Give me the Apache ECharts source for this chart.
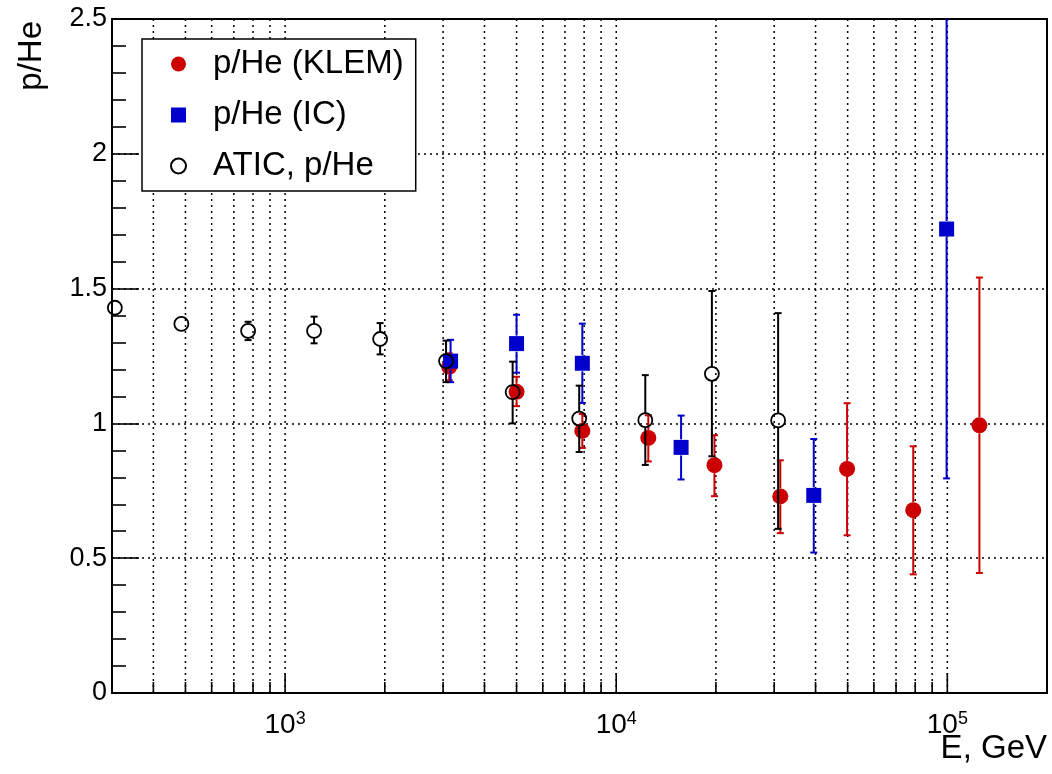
<!DOCTYPE html>
<html>
<head>
<meta charset="utf-8">
<script src="https://cdn.jsdelivr.net/npm/echarts@6/dist/echarts.min.js"></script>
<style>html,body{margin:0;padding:0;background:#fff}#c{width:1052px;height:774px}</style>
</head>
<body>
<div id="c"></div>
<script>
// ---- data ----
const klemE  = [3130, 5000, 7900, 12500, 19800, 31300, 49800, 78900, 125000];
const klemY  = [1.21, 1.117, 0.972, 0.946, 0.845, 0.729, 0.831, 0.678, 0.993];
const klemLo = [1.16, 1.064, 0.909, 0.859, 0.730, 0.593, 0.585, 0.440, 0.445];
const klemHi = [1.26, 1.173, 1.035, 1.030, 0.956, 0.863, 1.075, 0.915, 1.541];

const icE  = [3160, 5000, 7900, 15700, 39500, 99500];
const icY  = [1.231, 1.296, 1.223, 0.911, 0.733, 1.721];
const icLo = [1.153, 1.188, 1.076, 0.792, 0.521, 0.796];
const icHi = [1.310, 1.403, 1.370, 1.029, 0.942, 2.700];

const aticE  = [306, 486, 773, 1223, 1936, 3062, 4866, 7730, 12240, 19450, 30830];
const aticY  = [1.429, 1.369, 1.343, 1.343, 1.313, 1.231, 1.116, 1.018, 1.012, 1.184, 1.011];
const aticLo = [1.420, 1.360, 1.309, 1.297, 1.256, 1.153, 1.000, 0.894, 0.846, 0.878, 0.609];
const aticHi = [1.440, 1.378, 1.377, 1.396, 1.372, 1.307, 1.229, 1.140, 1.179, 1.491, 1.409];

const xMajorTicks = [1000, 10000, 100000];
const xMinorTicks = [400, 500, 600, 700, 800, 900,
                     2000, 3000, 4000, 5000, 6000, 7000, 8000, 9000,
                     20000, 30000, 40000, 50000, 60000, 70000, 80000, 90000];
const seriesNames = ['p/He (KLEM)', 'p/He (IC)', 'ATIC, p/He'];

// ---- config ----
const X_MIN = 300, X_MAX = 200000, Y_MIN = 0, Y_MAX = 2.5;
const FONT = "'Liberation Sans', Arial, Helvetica, sans-serif";
const RED = '#cc0000', BLUE = '#0000cc', BLACK = '#000000';

function rows(E, Y, Lo, Hi) { return E.map((e, i) => [e, Y[i], Lo[i], Hi[i]]); }
function pts(E, Y) { return E.map((e, i) => [e, Y[i]]); }

function errRender(color, gap) {
  return function (params, api) {
    const x = api.value(0), y = api.value(1), lo = api.value(2), hi = api.value(3);
    const pc = api.coord([x, y]), pl = api.coord([x, lo]), ph = api.coord([x, hi]);
    const st = { stroke: color, lineWidth: 2 };
    const ch = [];
    const cw = 3.5;
    if (ph[1] < pc[1] - gap) {
      ch.push({ type: 'line', shape: { x1: pc[0], y1: pc[1] - gap, x2: pc[0], y2: ph[1] }, style: st });
      ch.push({ type: 'line', shape: { x1: pc[0] - cw, y1: ph[1], x2: pc[0] + cw, y2: ph[1] }, style: st });
    }
    if (pl[1] > pc[1] + gap) {
      ch.push({ type: 'line', shape: { x1: pc[0], y1: pc[1] + gap, x2: pc[0], y2: pl[1] }, style: st });
      ch.push({ type: 'line', shape: { x1: pc[0] - cw, y1: pl[1], x2: pc[0] + cw, y2: pl[1] }, style: st });
    }
    return { type: 'group', children: ch };
  };
}

const gridData = xMinorTicks.map(v => [v, 0]).concat(xMajorTicks.map(v => [v, 1]));

const chart = echarts.init(document.getElementById('c'), null, { renderer: 'canvas' });
chart.setOption({
  animation: false,
  backgroundColor: '#fff',
  textStyle: { fontFamily: FONT },
  grid: { left: 112, right: 5, top: 19, bottom: 81, show: true, borderColor: '#000', borderWidth: 2, backgroundColor: 'transparent' },
  xAxis: {
    type: 'log', logBase: 10, min: X_MIN, max: X_MAX,
    axisLine: { show: true, lineStyle: { color: '#000', width: 2 } },
    axisTick: { show: false },
    splitLine: { show: false },
    axisLabel: {
      show: true, margin: 17, color: '#000', fontSize: 28, fontFamily: FONT, showMinLabel: true, showMaxLabel: true,
      formatter: function (v) {
        const l = Math.log10(v);
        if (Math.abs(l - Math.round(l)) < 1e-6 && v >= 1000) {
          return '{b|10}{s|' + Math.round(l) + '}';
        }
        return '';
      },
      rich: {
        b: { fontSize: 28, fontFamily: FONT, color: '#000', lineHeight: 30 },
        s: { fontSize: 18, fontFamily: FONT, color: '#000', lineHeight: 10, verticalAlign: 'top' }
      }
    }
  },
  yAxis: {
    type: 'value', min: Y_MIN, max: Y_MAX, interval: 0.5,
    axisLine: { show: true, lineStyle: { color: '#000', width: 2 } },
    axisTick: { show: true, inside: true, length: 27, lineStyle: { color: '#000', width: 1.6 } },
    minorTick: { show: true, splitNumber: 5, length: 14, lineStyle: { color: '#000', width: 1.6 } },
    splitLine: { show: true, lineStyle: { color: '#000', width: 1.5, type: [2, 4] } },
    axisLabel: { fontSize: 27, color: '#000', margin: 5, fontFamily: FONT }
  },
  legend: {
    orient: 'vertical', left: 142, top: 39,
    data: [
      { name: seriesNames[0], icon: 'circle' },
      { name: seriesNames[1], icon: 'rect' },
      { name: seriesNames[2], icon: 'circle' }
    ],
    padding: [7, 12, 7, 28], itemGap: 15, itemWidth: 15, itemHeight: 15,
    backgroundColor: '#fff', borderColor: '#000', borderWidth: 1.5, borderRadius: 0,
    selectedMode: false, z: 10,
    textStyle: { fontSize: 33, color: '#000', fontFamily: FONT, lineHeight: 36, padding: [0, 0, 0, 22] }
  },
  graphic: [
    { type: 'text', x: 15, y: 21, rotation: Math.PI / 2,
      style: { text: 'p/He', font: '33px ' + FONT, fill: '#000', align: 'right', verticalAlign: 'top', textAlign: 'right', textVerticalAlign: 'top' } },
    { type: 'text', x: 1047, y: 749,
      style: { text: 'E, GeV', font: '33px ' + FONT, fill: '#000', align: 'right', verticalAlign: 'middle', textAlign: 'right', textVerticalAlign: 'middle' } }
  ],
  series: [
    {
      type: 'custom', name: 'grid', silent: true, z: 1,
      data: gridData, encode: { x: 0 },
      renderItem: function (params, api) {
        const v = api.value(0), major = api.value(1) === 1;
        const b = api.coord([v, Y_MIN]), t = api.coord([v, Y_MAX]);
        return { type: 'group', children: [
          { type: 'line', shape: { x1: b[0], y1: b[1], x2: t[0], y2: t[1] }, style: { stroke: '#000', lineWidth: 1.5, lineDash: [2, 4] } },
          { type: 'line', shape: { x1: b[0], y1: b[1], x2: b[0], y2: b[1] - (major ? 20 : 11) }, style: { stroke: '#000', lineWidth: 1.6 } }
        ] };
      }
    },
    { type: 'custom', name: 'klemErr', silent: true, z: 3, clip: true,
      data: rows(klemE, klemY, klemLo, klemHi), encode: { x: 0, y: 1 }, renderItem: errRender(RED, 8) },
    { type: 'scatter', name: seriesNames[0], z: 4, symbol: 'circle', symbolSize: 16,
      itemStyle: { color: RED, opacity: 1 }, data: pts(klemE, klemY) },
    { type: 'custom', name: 'icErr', silent: true, z: 5, clip: true,
      data: rows(icE, icY, icLo, icHi), encode: { x: 0, y: 1 }, renderItem: errRender(BLUE, 8) },
    { type: 'scatter', name: seriesNames[1], z: 6, symbol: 'rect', symbolSize: 15,
      itemStyle: { color: BLUE, opacity: 1 }, data: pts(icE, icY) },
    { type: 'custom', name: 'aticErr', silent: true, z: 7, clip: true,
      data: rows(aticE, aticY, aticLo, aticHi), encode: { x: 0, y: 1 }, renderItem: errRender(BLACK, 7) },
    { type: 'scatter', name: seriesNames[2], z: 8, symbol: 'circle', symbolSize: 14,
      itemStyle: { color: 'rgba(255,255,255,0)', borderColor: BLACK, borderWidth: 1.8, opacity: 1 }, data: pts(aticE, aticY) }
  ]
});
</script>
</body>
</html>
